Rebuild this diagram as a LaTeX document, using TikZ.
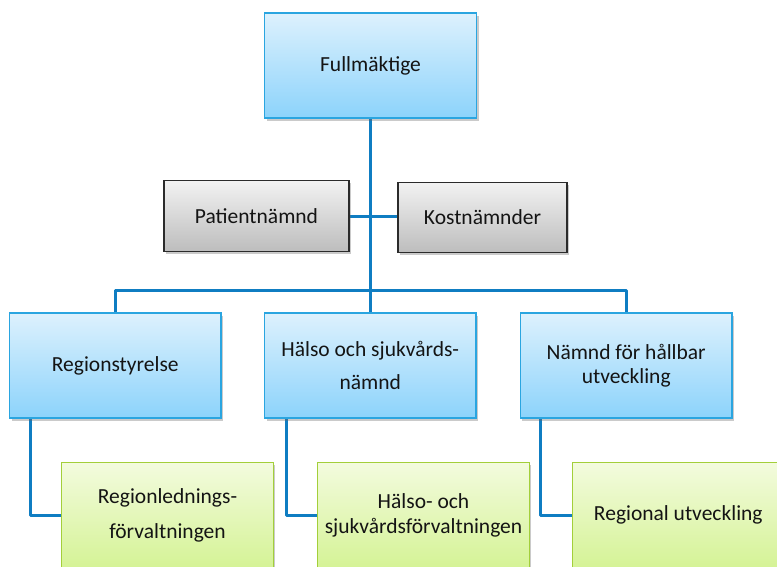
\documentclass[tikz,border=0pt]{standalone}
\usepackage{fontspec}
\setmainfont{Carlito}
\usetikzlibrary{shadows,backgrounds}

\definecolor{linkblue}{HTML}{0F7DC2}
\definecolor{blueedge}{HTML}{2AA5E0}
\definecolor{bluetop}{HTML}{DDF1FD}
\definecolor{bluebot}{HTML}{8CD3FB}
\definecolor{greyedge}{HTML}{2B2B2B}
\definecolor{greytop}{HTML}{F2F2F2}
\definecolor{greybot}{HTML}{BDBDBD}
\definecolor{greenedge}{HTML}{A3CF3A}
\definecolor{greentop}{HTML}{F3FBDE}
\definecolor{greenbot}{HTML}{D5F396}
\definecolor{labeltext}{HTML}{141414}

\tikzset{
  box/.style={rectangle, draw, line width=1.2pt, align=center,
    text=labeltext, inner sep=0pt,
    drop shadow={shadow xshift=2pt, shadow yshift=-2.5pt, opacity=0.35, fill=black!60}},
  bluebox/.style={box, draw=blueedge, top color=bluetop, bottom color=bluebot,
    minimum width=211.5pt, minimum height=105pt},
  greybox/.style={box, draw=greyedge, top color=greytop, bottom color=greybot,
    minimum height=70.5pt},
  greenbox/.style={box, draw=greenedge, top color=greentop, bottom color=greenbot,
    minimum width=211.5pt, minimum height=105pt},
  link/.style={draw=linkblue, line width=3pt, line join=round},
  lbl/.style={font=\fontsize{21.5}{#1}\selectfont},
  lbl/.default=26
}

\begin{document}
\begin{tikzpicture}[x=1pt, y=-1pt]
  \useasboundingbox (0,0) rectangle (777,566);
  \clip (0,0) rectangle (777,566);

  % top level
  \node[bluebox, lbl, minimum width=212pt] (full) at (370.5,65.5) {Fullmäktige};

  % side committees
  \node[greybox, lbl, minimum width=185pt] (pat) at (256.5,216) {Patientnämnd};
  \node[greybox, lbl, minimum width=169pt] (kost) at (482.5,217.5) {Kostnämnder};

  % boards
  \node[bluebox, lbl] (reg) at (115.25,365.5) {Regionstyrelse};
  \node[bluebox, lbl=33] (hals) at (370.25,365.5) {Hälso och sjukvårds-\\nämnd};
  \node[bluebox, lbl=24] (namnd) at (626.2,365.5) {Nämnd för hållbar\\utveckling};

  % administrations
  \node[greenbox, lbl=35] (adm1) at (167.5,515) {Regionlednings-\\förvaltningen};
  \node[greenbox, lbl=25] (adm2) at (423.5,515) {Hälso- och\\sjukvårdsförvaltningen};
  \node[greenbox, lbl] (adm3) at (678.3,515) {Regional utveckling};

  \coordinate (bus) at (370.5,290.7);
  \coordinate (side) at (370.5,216.7);

  \begin{scope}[on background layer]
    % trunk and horizontal bus
    \draw[link] (full.south) -- (full.south |- hals.north);
    \draw[link] (reg.north) |- (bus) -| (namnd.north);
    % side branches
    \draw[link] (pat.east |- side) -- (kost.west |- side);
    % board to administration
    \draw[link] ([xshift=21.5pt]reg.south west) |- (adm1.west);
    \draw[link] ([xshift=22.5pt]hals.south west) |- (adm2.west);
    \draw[link] ([xshift=21pt]namnd.south west) |- (adm3.west);
  \end{scope}
\end{tikzpicture}
\end{document}
